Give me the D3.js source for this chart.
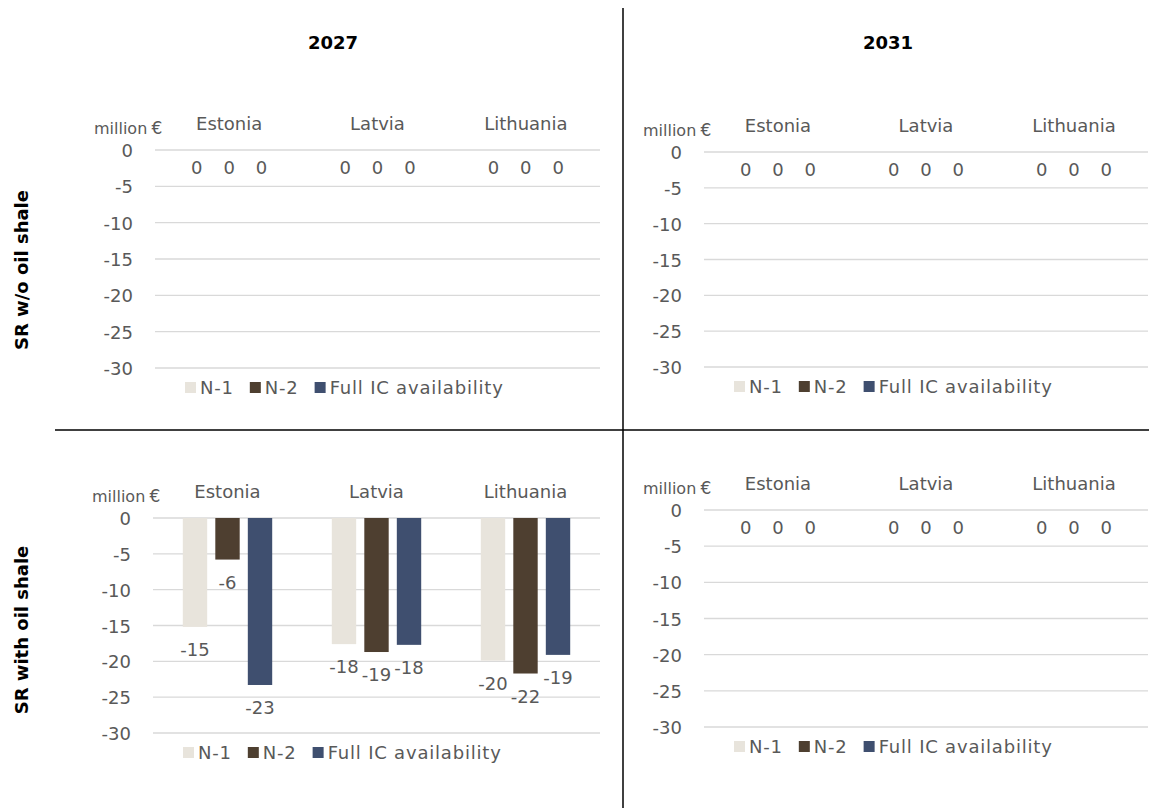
<!DOCTYPE html>
<html><head><meta charset="utf-8">
<script src="https://cdn.jsdelivr.net/npm/d3@7"></script>
<style>body{margin:0;background:#fff}text{font-family:"DejaVu Sans",Verdana,sans-serif}</style>
</head><body><svg id="c" width="1149" height="812"></svg>
<script>
const categories = ["Estonia","Latvia","Lithuania"];
const seriesNames = ["N-1","N-2","Full IC availability"];
const colors = ["#E8E4DC","#4E3F30","#3F4F6F"];
const yTicks = [0,-5,-10,-15,-20,-25,-30];
const columnTitles = ["2027","2031"];
const rowTitles = ["SR w/o oil shale","SR with oil shale"];
// values[category][series]
const vals2027NoShale = [[0,0,0],[0,0,0],[0,0,0]];
const vals2031NoShale = [[0,0,0],[0,0,0],[0,0,0]];
const vals2027Shale = [[-15.2,-5.8,-23.3],[-17.6,-18.7,-17.7],[-19.9,-21.7,-19.1]];
const vals2031Shale = [[0,0,0],[0,0,0],[0,0,0]];

const svg = d3.select("#c");
const grey="#595959";
const panels = [
 {v:vals2027NoShale,x0:155,x1:600,y0:150,y1:368},
 {v:vals2031NoShale,x0:704,x1:1148,y0:152,y1:367},
 {v:vals2027Shale,x0:153,x1:600,y0:518,y1:733},
 {v:vals2031Shale,x0:704,x1:1148,y0:510,y1:727}
];
panels.forEach(p=>{
  const g=svg.append("g");
  const y=d3.scaleLinear().domain([0,-30]).range([p.y0,p.y1]);
  const x=d3.scaleBand().domain(categories).range([p.x0,p.x1]).paddingInner(0.4).paddingOuter(0.2);
  const xs=d3.scaleBand().domain(seriesNames).range([0,x.bandwidth()]).paddingInner(0.25);
  g.selectAll(".gl").data(yTicks).join("line").attr("x1",p.x0).attr("x2",p.x1)
   .attr("y1",d=>y(d)).attr("y2",d=>y(d)).attr("stroke","#d9d9d9").attr("stroke-width",1.3);
  g.selectAll(".yt").data(yTicks).join("text").attr("x",p.x0-22).attr("y",d=>y(d)+7)
   .attr("text-anchor","end").attr("font-size",18).attr("fill",grey).text(d=>d);
  g.append("text").attr("x",p.x0-61).attr("y",p.y0-16).attr("font-size",16).attr("fill",grey).text("million");
  g.append("text").attr("x",p.x0+2).attr("y",p.y0-16).attr("text-anchor","middle").attr("font-size",17).attr("fill",grey).text("€");
  categories.forEach((c,ci)=>{
    g.append("text").attr("x",x(c)+x.bandwidth()/2).attr("y",p.y0-20).attr("text-anchor","middle")
     .attr("font-size",18).attr("fill",grey).text(c);
    seriesNames.forEach((s,si)=>{
      const v=p.v[ci][si];
      const bx=x(c)+xs(s);
      if(v<0) g.append("rect").attr("x",bx).attr("width",xs.bandwidth()).attr("y",y(0))
        .attr("height",y(v)-y(0)).attr("fill",colors[si]);
      g.append("text").attr("x",bx+xs.bandwidth()/2).attr("y",y(v)+(v<0?29:24))
       .attr("text-anchor","middle").attr("font-size",18).attr("fill",grey).text(Math.round(v));
    });
  });
  const ly=p.y1+26;
  let lx=p.x0+30;
  seriesNames.forEach((s,si)=>{
    g.append("rect").attr("x",lx).attr("y",ly-12).attr("width",11).attr("height",11).attr("fill",colors[si]);
    const t=g.append("text").attr("x",lx+15).attr("y",ly).attr("font-size",18).attr("letter-spacing",0.8).attr("fill",grey).text(s);
    lx+=15+t.node().getComputedTextLength()+16;
  });
});
svg.append("line").attr("x1",623).attr("x2",623).attr("y1",8).attr("y2",808).attr("stroke","#000").attr("stroke-width",1.5);
svg.append("line").attr("x1",55).attr("x2",1149).attr("y1",430).attr("y2",430).attr("stroke","#000").attr("stroke-width",1.5);
[333,888].forEach((cx,i)=>svg.append("text").attr("x",cx).attr("y",49).attr("text-anchor","middle")
  .attr("font-size",18).attr("font-weight","bold").attr("fill","#000").text(columnTitles[i]));
[270,630].forEach((cy,i)=>svg.append("text").attr("transform",`translate(28,${cy}) rotate(-90)`)
  .attr("text-anchor","middle").attr("font-size",18).attr("font-weight","bold").attr("fill","#000").text(rowTitles[i]));
</script></body></html>
